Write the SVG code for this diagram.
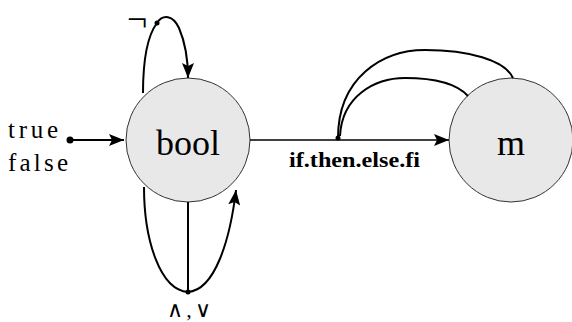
<svg xmlns="http://www.w3.org/2000/svg" width="572" height="322" viewBox="0 0 572 322">
<style>
.node{fill:#e8e8e8;stroke:#333;stroke-width:1}
.edge{fill:none;stroke:#000;stroke-width:2}
.thin{fill:none;stroke:#000;stroke-width:1.4}
.lbl{font-family:"Liberation Serif","DejaVu Serif",serif;fill:#000}
.dot{fill:#000}
</style>
<defs>
<marker id="arr" markerUnits="userSpaceOnUse" markerWidth="16" markerHeight="12" refX="15" refY="6" orient="auto">
<path d="M0,0 L15,6 L0,12 L3,6 z" fill="#000"/>
</marker>
</defs>
<g id="bool">
<circle class="node" cx="188" cy="140" r="62"/>
<text class="lbl" x="188" y="155" font-size="36" text-anchor="middle">bool</text>
</g>
<g id="m">
<circle class="node" cx="511" cy="140" r="62"/>
<text class="lbl" x="511" y="155" font-size="36" text-anchor="middle">m</text>
</g>
<g id="labels">
<text class="lbl" x="8" y="138" font-size="25" textLength="50" lengthAdjust="spacing">true</text>
<text class="lbl" x="8" y="171" font-size="25" textLength="60" lengthAdjust="spacing">false</text>
<text class="lbl" x="289" y="167" font-size="20" font-weight="bold" textLength="131" lengthAdjust="spacingAndGlyphs">if.then.else.fi</text>
<text class="lbl" x="127" y="31" font-size="36">¬</text>
<text class="lbl" x="189" y="317" font-size="22" text-anchor="middle" textLength="44" lengthAdjust="spacing">∧,∨</text>
</g>
<g id="connectors">
<circle class="dot" cx="70" cy="140" r="3.5"/>
<line class="edge" x1="70" y1="140" x2="124" y2="140" marker-end="url(#arr)"/>
<line class="thin" x1="250" y1="140" x2="449" y2="140" marker-end="url(#arr)"/>
<circle class="dot" cx="338" cy="138" r="2.5"/>
<path class="edge" d="M338,138 C338,78 382,50 425,50 C468,50 505,60 513,78"/>
<path class="edge" d="M340,136 C342,96 375,78 405,78 C440,78 458,85 468,96"/>
<path class="edge" d="M143,93 C143,60 148,35 157,23"/>
<circle class="dot" cx="157" cy="23" r="2.5"/>
<path class="edge" d="M157,23 C163,14 173,15 179,28 C185,42 188,58 188,78" marker-end="url(#arr)"/>
<line class="edge" x1="188" y1="202" x2="188" y2="292"/>
<circle class="dot" cx="188" cy="292" r="2.5"/>
<path class="edge" d="M144,187 C144,240 160,290 188,292"/>
<path class="edge" d="M188,292 C215,290 230,240 236,190" marker-end="url(#arr)"/>
</g>
</svg>
